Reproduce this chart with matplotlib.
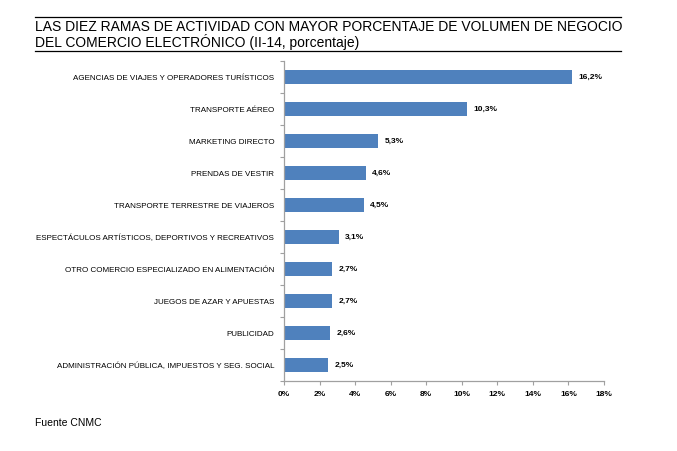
import matplotlib
matplotlib.use("Agg")
import matplotlib.pyplot as plt
from matplotlib.lines import Line2D
from matplotlib import font_manager
import numpy as np

plt.rcParams['font.family'] = ['Liberation Sans', 'DejaVu Sans']
names = {f.name for f in font_manager.fontManager.ttflist}
title_family = ['Liberation Sans Narrow', 'Liberation Sans'] if 'Liberation Sans Narrow' in names else ['Liberation Sans']
title_size = 10.6 if 'Liberation Sans Narrow' in names else 10.0

categories = [
    "AGENCIAS DE VIAJES Y OPERADORES TURÍSTICOS",
    "TRANSPORTE AÉREO",
    "MARKETING DIRECTO",
    "PRENDAS DE VESTIR",
    "TRANSPORTE TERRESTRE DE VIAJEROS",
    "ESPECTÁCULOS ARTÍSTICOS, DEPORTIVOS Y RECREATIVOS",
    "OTRO COMERCIO ESPECIALIZADO EN ALIMENTACIÓN",
    "JUEGOS DE AZAR Y APUESTAS",
    "PUBLICIDAD",
    "ADMINISTRACIÓN PÚBLICA, IMPUESTOS Y SEG. SOCIAL",
]
values = [16.2, 10.3, 5.3, 4.6, 4.5, 3.1, 2.7, 2.7, 2.6, 2.5]
xticks = [0, 2, 4, 6, 8, 10, 12, 14, 16, 18]

fig = plt.figure(figsize=(6.77, 4.51), dpi=100)
ax = fig.add_axes([284/677, 1 - 381/451, (604-284)/677, (381-61)/451])

n = len(categories)
y = np.arange(n)
ax.barh(y, values, height=0.42, color='#4F81BD')
ax.set_ylim(n - 0.5, -0.5)
ax.set_xlim(0, 18)
ax.set_yticks(y)
ax.set_yticklabels(categories, fontsize=5.8)
ax.tick_params(axis='y', length=0, pad=7)
ax.set_yticks(np.arange(-0.5, n, 1), minor=True)
ax.tick_params(axis='y', which='minor', length=3, color='#A0A0A0', width=0.8)
ax.set_xticks(xticks)
ax.set_xticklabels([f"{t}%" for t in xticks], fontsize=6.0, fontweight='bold')
ax.tick_params(axis='x', length=3, color='#A0A0A0', width=0.8, pad=4)
for s in ['top', 'right']:
    ax.spines[s].set_visible(False)
for s in ['left', 'bottom']:
    ax.spines[s].set_color('#A0A0A0')
    ax.spines[s].set_linewidth(0.9)

for yi, v in zip(y, values):
    ax.text(v + 0.35, yi, f"{v:.1f}".replace('.', ',') + "%", va='center', ha='left',
            fontsize=6.0, fontweight='bold')

fig.text(35/677, 1 - 27/451, "LAS DIEZ RAMAS DE ACTIVIDAD CON MAYOR PORCENTAJE DE VOLUMEN DE NEGOCIO",
         fontsize=title_size, family=title_family, va='center', ha='left')
fig.text(35/677, 1 - 42/451, "DEL COMERCIO ELECTRÓNICO (II-14, porcentaje)",
         fontsize=title_size, family=title_family, va='center', ha='left')
fig.add_artist(Line2D([35/677, 621/677], [1 - 17/451, 1 - 17/451], color='black', lw=0.9))
fig.add_artist(Line2D([35/677, 621/677], [1 - 51/451, 1 - 51/451], color='black', lw=0.9))
fig.text(35/677, 1 - 423/451, "Fuente CNMC", fontsize=7.5, va='center', ha='left')

fig.savefig("out.png", dpi=100)
